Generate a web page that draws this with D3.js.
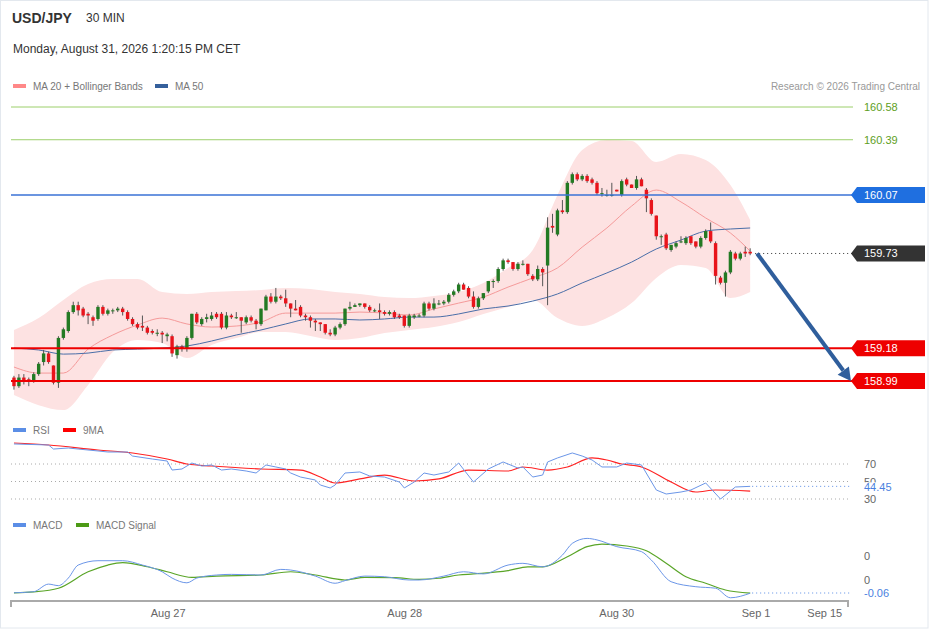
<!DOCTYPE html>
<html>
<head>
<meta charset="utf-8">
<script src="https://cdn.jsdelivr.net/npm/d3@7"></script>
<style>
  body { margin: 0; background: #fff; font-family: "Liberation Sans", Arial, sans-serif; }
</style>
</head>
<body>
<div id="chart"></div>
<script>
// USD/JPY 30 min candles (index 0 = first candle)
const candleOpen = [159.01,158.96,159.01,159.00,158.99,159.03,159.10,159.15,159.08,158.98,
  159.24,159.28,159.39,159.43,159.41,159.38,159.36,159.35,159.42,159.38,
  159.40,159.40,159.41,159.39,159.35,159.32,159.31,159.30,159.28,159.27,
  159.27,159.25,159.25,159.14,159.19,159.18,159.24,159.38,159.32,159.35,
  159.35,159.38,159.38,159.30,159.37,159.36,159.36,159.33,159.36,159.34,
  159.32,159.40,159.48,159.45,159.48,159.47,159.44,159.41,159.42,159.37,
  159.36,159.34,159.33,159.32,159.27,159.26,159.30,159.32,159.41,159.42,
  159.43,159.44,159.42,159.40,159.40,159.39,159.38,159.39,159.37,159.37,
  159.31,159.36,159.37,159.37,159.44,159.41,159.44,159.44,159.45,159.49,
  159.51,159.55,159.53,159.48,159.42,159.47,159.51,159.57,159.57,159.64,
  159.69,159.68,159.64,159.67,159.67,159.60,159.58,159.64,159.66,159.89,
  159.84,159.98,159.97,160.14,160.19,160.16,160.18,160.16,160.14,160.08,
  160.07,160.07,160.10,160.07,160.16,160.13,160.11,160.16,160.10,160.04,
  159.95,159.83,159.84,159.75,159.77,159.80,159.79,159.83,159.80,159.77,
  159.82,159.86,159.79,159.59,159.56,159.62,159.73,159.70,159.74,159.74];
const candleHigh = [159.02,159.03,159.03,159.01,159.04,159.10,159.17,159.16,159.08,159.25,
  159.30,159.40,159.45,159.45,159.42,159.39,159.37,159.43,159.43,159.41,
  159.41,159.42,159.42,159.40,159.36,159.33,159.37,159.31,159.29,159.29,
  159.28,159.27,159.26,159.20,159.20,159.25,159.38,159.39,159.36,159.38,
  159.39,159.39,159.39,159.39,159.38,159.39,159.36,159.37,159.37,159.35,
  159.41,159.49,159.50,159.53,159.49,159.52,159.44,159.46,159.43,159.38,
  159.37,159.35,159.33,159.32,159.29,159.31,159.33,159.41,159.45,159.44,
  159.44,159.44,159.43,159.41,159.44,159.40,159.40,159.40,159.38,159.37,
  159.38,159.38,159.38,159.45,159.45,159.47,159.46,159.46,159.50,159.52,
  159.56,159.56,159.54,159.51,159.48,159.50,159.57,159.58,159.65,159.70,
  159.70,159.68,159.68,159.69,159.67,159.61,159.66,159.65,159.94,159.96,
  159.99,160.04,160.15,160.20,160.20,160.19,160.19,160.17,160.15,160.11,
  160.10,160.14,160.10,160.16,160.17,160.13,160.18,160.17,160.11,160.05,
  159.95,159.84,159.85,159.78,159.80,159.83,159.83,159.83,159.80,159.83,
  159.87,159.91,159.80,159.60,159.63,159.75,159.74,159.74,159.77,159.76];
const candleLow = [158.94,158.95,158.97,158.96,158.98,159.02,159.08,159.09,158.97,158.95,
  159.23,159.27,159.38,159.37,159.36,159.32,159.31,159.34,159.37,159.37,
  159.38,159.39,159.37,159.34,159.31,159.29,159.28,159.26,159.26,159.25,
  159.21,159.22,159.13,159.12,159.16,159.16,159.23,159.32,159.31,159.33,
  159.34,159.35,159.29,159.29,159.35,159.35,159.27,159.32,159.33,159.29,
  159.31,159.40,159.44,159.44,159.46,159.42,159.36,159.40,159.36,159.34,
  159.30,159.28,159.28,159.26,159.25,159.25,159.29,159.31,159.40,159.42,
  159.42,159.41,159.39,159.39,159.35,159.37,159.37,159.35,159.35,159.30,
  159.30,159.35,159.36,159.36,159.40,159.40,159.43,159.43,159.44,159.48,
  159.50,159.52,159.47,159.41,159.41,159.46,159.50,159.53,159.56,159.63,
  159.67,159.63,159.63,159.66,159.60,159.57,159.57,159.54,159.43,159.85,
  159.83,159.96,159.96,160.13,160.15,160.15,160.14,160.13,160.07,160.06,
  160.06,160.06,160.09,160.06,160.12,160.11,160.10,160.12,159.97,159.95,
  159.81,159.78,159.75,159.74,159.76,159.79,159.78,159.78,159.76,159.76,
  159.81,159.79,159.55,159.55,159.48,159.61,159.69,159.69,159.71,159.72];
const candleClose = [158.96,159.01,158.99,158.99,159.03,159.09,159.15,159.10,158.98,159.24,
  159.29,159.39,159.43,159.40,159.37,159.37,159.34,159.42,159.38,159.40,
  159.40,159.41,159.39,159.35,159.32,159.30,159.30,159.27,159.27,159.27,
  159.26,159.26,159.15,159.19,159.18,159.24,159.38,159.33,159.35,159.36,
  159.37,159.36,159.30,159.37,159.36,159.36,159.34,159.36,159.34,159.32,
  159.41,159.48,159.45,159.48,159.47,159.44,159.41,159.40,159.37,159.36,
  159.34,159.33,159.32,159.27,159.26,159.30,159.32,159.41,159.42,159.43,
  159.44,159.42,159.40,159.40,159.39,159.38,159.39,159.36,159.36,159.31,
  159.37,159.37,159.37,159.44,159.41,159.44,159.44,159.45,159.49,159.51,
  159.55,159.52,159.48,159.42,159.47,159.50,159.57,159.57,159.64,159.69,
  159.68,159.64,159.67,159.67,159.61,159.58,159.64,159.62,159.88,159.88,
  159.98,159.97,160.14,160.19,160.16,160.18,160.15,160.14,160.08,160.08,
  160.07,160.07,160.09,160.15,160.13,160.11,160.16,160.12,160.05,159.96,
  159.83,159.83,159.76,159.78,159.79,159.80,159.82,159.79,159.77,159.82,
  159.86,159.80,159.60,159.56,159.62,159.74,159.70,159.73,159.73,159.73];

// MA 20 + Bollinger bands and MA 50, sampled every 5 candles
const bandIdx = [0,5,10,15,20,25,30,35,40,45,50,55,60,65,70,75,80,85,90,95,100,105,110,115,120,125,130,135,140,145,149];
const bandUpper = [159.286,159.355,159.460,159.553,159.582,159.582,159.506,159.495,159.506,159.512,
  159.518,159.530,159.524,159.506,159.495,159.477,159.471,159.483,159.506,159.559,
  159.646,159.750,160.069,160.330,160.388,160.383,160.261,160.307,160.272,160.127,159.924];
const bandLower = [158.909,158.850,158.821,158.967,159.158,159.228,159.210,159.123,159.199,159.239,
  159.274,159.274,159.251,159.228,159.239,159.268,159.286,159.303,159.332,159.379,
  159.419,159.460,159.355,159.309,159.355,159.442,159.588,159.663,159.646,159.471,159.506];
const ma20 = [159.071,159.036,159.036,159.175,159.257,159.315,159.355,159.321,159.303,159.309,
  159.332,159.384,159.384,159.384,159.390,159.384,159.373,159.408,159.442,159.477,
  159.535,159.588,159.646,159.767,159.878,160.005,160.098,160.029,159.936,159.849,159.744];
const ma50 = [159.181,159.170,159.146,159.152,159.170,159.175,159.181,159.193,159.222,159.257,
  159.286,159.321,159.350,159.350,159.344,159.350,159.361,159.361,159.379,159.408,
  159.425,159.454,159.495,159.559,159.617,159.680,159.756,159.808,159.860,159.872,159.878];

// RSI and its 9 period MA
const rsiIdx = [0,7,8,11,13,17,19,23,24,28,31,32,34,36,38,40,42,44,47,49,51,53,55,56,58,61,62,64,65,67,
  70,72,75,78,79,81,83,85,88,90,93,96,99,102,103,105,107,108,110,113,115,117,119,122,124,127,130,132,135,137,
  140,143,146,149];
const rsiVals = [92.9,91.7,87.1,88.3,87.1,84.9,83.7,83.7,79.1,75.7,73.4,63.1,64.3,71.1,67.7,68.9,63.1,64.3,62.0,59.7,
  68.9,66.6,64.3,59.7,55.1,51.7,46.0,42.6,46.0,59.7,60.9,56.3,55.1,49.4,42.6,49.4,59.7,57.4,60.9,71.1,
  49.4,64.3,72.3,65.4,66.6,55.1,57.4,72.3,76.9,82.6,79.1,74.6,66.6,66.6,71.1,68.9,40.3,35.7,38.0,40.3,
  48.3,30.0,43.7,44.45];
const rsiMaIdx = [0,7,17,24,31,35,40,50,58,62,65,70,75,81,86,92,100,103,108,112,117,120,123,127,133,138,142,149];
const rsiMaVals = [94.0,91.7,86.0,82.6,75.7,70.0,67.7,64.3,63.1,55.1,48.3,52.9,57.4,50.6,52.9,63.1,62.0,66.6,63.1,66.6,
  76.9,74.6,70.0,66.6,49.4,38.0,40.3,39.1];

// MACD and signal
const macdIdx = [0,4,7,9,11,13,17,22,26,30,32,35,37,41,44,50,54,56,61,65,67,71,75,80,82,87,91,95,100,103,
  107,111,113,116,118,122,127,129,133,138,142,145,149];
const macdVals = [-0.059,-0.054,-0.019,-0.026,0.009,0.069,0.089,0.089,0.069,0.038,0.009,-0.013,0.009,0.023,0.026,0.023,0.049,0.046,0.018,-0.015,
  -0.003,0.018,0.015,0.000,0.000,0.018,0.038,0.028,0.069,0.077,0.061,0.115,0.169,0.192,0.185,0.154,0.131,0.092,-0.008,-0.031,
  -0.038,-0.082,-0.061];
const signalIdx = [0,4,9,15,19,22,27,31,36,41,50,56,61,67,71,77,82,86,90,93,100,104,107,112,116,119,124,128,132,136,140,144,149];
const signalVals = [-0.059,-0.055,-0.038,0.038,0.069,0.080,0.061,0.038,0.012,0.018,0.023,0.038,0.023,0.000,0.012,0.011,0.003,0.008,0.023,0.028,
  0.043,0.061,0.061,0.107,0.154,0.166,0.157,0.135,0.077,0.015,-0.015,-0.046,-0.061];

// levels and axis labels
const supportLevels = [159.18, 158.99];
const resistanceLevels = [160.58, 160.39];
const pivotLevel = 160.07;
const lastPrice = 159.73;
const targetPrice = 158.99;
const lastRsi = 44.45;
const lastMacd = -0.06;
const rsiLevels = [70, 50, 30];
const macdTickVals = [0.111, 0];
const macdTickLabels = ["0", "0"];
const xTickIdx = [31.2, 79.1, 122, 150.2, 164.1];
const xTickLabels = ["Aug 27", "Aug 28", "Aug 30", "Sep 1", "Sep 15"];

const W = 929, H = 629;
const plotLeft = 11, plotRight = 848, lineEnd = 853, labelX = 864;

const svg = d3.select("#chart").append("svg")
  .attr("width", W).attr("height", H)
  .style("font-family", '"Liberation Sans", Arial, sans-serif');

svg.append("rect").attr("x", 0.5).attr("y", 0.5).attr("width", W - 1.5).attr("height", H - 1.5)
  .attr("fill", "#fff").attr("stroke", "#e3e8ee");

// scales
const x = d3.scaleLinear().domain([-0.6, 168.8]).range([plotLeft, plotRight]);
const y = d3.scaleLinear().domain([158.99, 160.58]).range([381, 107]);
const yRsi = d3.scaleLinear().domain([30, 70]).range([499, 464]);
const yMacd = d3.scaleLinear().domain([-0.06, 0]).range([593, 580]);

// header
svg.append("text").attr("x", 12).attr("y", 23).attr("font-size", 14).attr("font-weight", "bold")
  .attr("fill", "#333").text("USD/JPY");
svg.append("text").attr("x", 86).attr("y", 22).attr("font-size", 12).attr("fill", "#333").text("30 MIN");
svg.append("text").attr("x", 13).attr("y", 53).attr("font-size", 12).attr("fill", "#333")
  .text("Monday, August 31, 2026 1:20:15 PM CET");

function legend(items, yy) {
  items.forEach(it => {
    svg.append("rect").attr("x", it.x).attr("y", yy - 2).attr("width", 13).attr("height", 4).attr("fill", it.color);
    svg.append("text").attr("x", it.x + 20).attr("y", yy + 4).attr("font-size", 10).attr("fill", "#777").text(it.label);
  });
}
legend([{x: 13, color: "#f88", label: "MA 20 + Bollinger Bands"}, {x: 155, color: "#35609c", label: "MA 50"}], 86);
legend([{x: 13, color: "#5b8ee6", label: "RSI"}, {x: 63, color: "#f00", label: "9MA"}], 430);
legend([{x: 13, color: "#5b8ee6", label: "MACD"}, {x: 76, color: "#4c9a15", label: "MACD Signal"}], 525);

svg.append("text").attr("x", 920).attr("y", 90).attr("text-anchor", "end").attr("font-size", 10)
  .attr("fill", "#999").text("Research \u00a9 2026 Trading Central");

// bollinger band
const bandArea = d3.area()
  .x((d, i) => x(bandIdx[i]))
  .y0((d, i) => y(bandLower[i]))
  .y1((d, i) => y(bandUpper[i]))
  .curve(d3.curveMonotoneX);
svg.append("path").datum(bandIdx).attr("d", bandArea).attr("fill", "#fde2e2");

const sampled = (vals, idx, scale) => d3.line()
  .x((d, i) => x(idx[i])).y(d => scale(d)).curve(d3.curveMonotoneX)(vals);

svg.append("path").attr("d", sampled(ma20, bandIdx, y)).attr("fill", "none").attr("stroke", "#f59a9a").attr("stroke-width", 1);
svg.append("path").attr("d", sampled(ma50, bandIdx, y)).attr("fill", "none").attr("stroke", "#4a6ea8").attr("stroke-width", 1);

// candles
const candles = d3.range(candleOpen.length).map(i => ({
  i, o: candleOpen[i], h: candleHigh[i], l: candleLow[i], c: candleClose[i]
}));
const cg = svg.append("g").selectAll("g").data(candles).join("g");
cg.append("line")
  .attr("x1", d => x(d.i)).attr("x2", d => x(d.i))
  .attr("y1", d => y(d.h)).attr("y2", d => y(d.l))
  .attr("stroke", "#555").attr("stroke-width", 1);
cg.append("rect")
  .attr("x", d => x(d.i) - 1.7).attr("width", 3.4)
  .attr("y", d => y(Math.max(d.o, d.c)))
  .attr("height", d => Math.max(1, Math.abs(y(d.o) - y(d.c))))
  .attr("fill", d => d.c >= d.o ? "#237a23" : "#e8141b");

// horizontal levels
resistanceLevels.forEach(v => {
  svg.append("line").attr("x1", plotLeft).attr("x2", lineEnd).attr("y1", y(v)).attr("y2", y(v))
    .attr("stroke", "#9ccf6a").attr("stroke-width", 1);
  svg.append("text").attr("x", labelX).attr("y", y(v) + 4).attr("font-size", 11).attr("fill", "#5e9e22")
    .text(v.toFixed(2));
});
svg.append("line").attr("x1", plotLeft).attr("x2", lineEnd).attr("y1", y(pivotLevel)).attr("y2", y(pivotLevel))
  .attr("stroke", "#3a72d6").attr("stroke-width", 1.5);
supportLevels.forEach(v => {
  svg.append("line").attr("x1", plotLeft).attr("x2", lineEnd).attr("y1", y(v)).attr("y2", y(v))
    .attr("stroke", "#ee0000").attr("stroke-width", 2);
});
svg.append("line").attr("x1", x(149) + 5).attr("x2", lineEnd).attr("y1", y(lastPrice)).attr("y2", y(lastPrice))
  .attr("stroke", "#333").attr("stroke-dasharray", "1,3");

function tag(v, fill) {
  const yy = y(v);
  svg.append("path")
    .attr("d", `M${lineEnd - 2},${yy} L${lineEnd + 4},${yy - 8} L925,${yy - 8} L925,${yy + 8} L${lineEnd + 4},${yy + 8} Z`)
    .attr("fill", fill);
  svg.append("text").attr("x", labelX).attr("y", yy + 4).attr("font-size", 11).attr("fill", "#fff").text(v.toFixed(2));
}
tag(pivotLevel, "#1f6fe0");
tag(lastPrice, "#333");
supportLevels.forEach(v => tag(v, "#ee0000"));

// projection arrow
const a0 = [x(150.4), y(lastPrice)];
const a1 = [x(169.4), y(targetPrice)];
const ang = Math.atan2(a1[1] - a0[1], a1[0] - a0[0]);
const headLen = 13, headW = 7;
const base = [a1[0] - headLen * Math.cos(ang), a1[1] - headLen * Math.sin(ang)];
svg.append("line").attr("x1", a0[0]).attr("y1", a0[1]).attr("x2", base[0]).attr("y2", base[1])
  .attr("stroke", "#2f5e9c").attr("stroke-width", 4);
svg.append("path").attr("d", `M${a1[0]},${a1[1]} L${base[0] + headW * Math.sin(ang)},${base[1] - headW * Math.cos(ang)} L${base[0] - headW * Math.sin(ang)},${base[1] + headW * Math.cos(ang)} Z`)
  .attr("fill", "#2f5e9c");

// RSI panel
rsiLevels.forEach(v => {
  svg.append("line").attr("x1", plotLeft).attr("x2", 850).attr("y1", yRsi(v)).attr("y2", yRsi(v))
    .attr("stroke", "#aaa").attr("stroke-dasharray", "1,3");
  svg.append("text").attr("x", labelX).attr("y", yRsi(v) + 4).attr("font-size", 11).attr("fill", "#666").text(v);
});
svg.append("path").attr("d", d3.line().x((d, i) => x(rsiMaIdx[i])).y(d => yRsi(d)).curve(d3.curveMonotoneX)(rsiMaVals))
  .attr("fill", "none").attr("stroke", "#f22").attr("stroke-width", 1.2);
svg.append("path").attr("d", d3.line().x((d, i) => x(rsiIdx[i])).y(d => yRsi(d))(rsiVals))
  .attr("fill", "none").attr("stroke", "#6b96e8").attr("stroke-width", 1);
svg.append("line").attr("x1", x(149) + 2).attr("x2", 850).attr("y1", yRsi(lastRsi)).attr("y2", yRsi(lastRsi))
  .attr("stroke", "#5b8ee6").attr("stroke-dasharray", "1,3");
svg.append("rect").attr("x", labelX - 1).attr("y", yRsi(lastRsi) - 4).attr("width", 34).attr("height", 11).attr("fill", "#fff");
svg.append("text").attr("x", labelX).attr("y", yRsi(lastRsi) + 5).attr("font-size", 11).attr("fill", "#4a7fe0")
  .text(lastRsi.toFixed(2));

// MACD panel
macdTickVals.forEach((v, i) => {
  svg.append("text").attr("x", labelX).attr("y", yMacd(v) + 4).attr("font-size", 11).attr("fill", "#666").text(macdTickLabels[i]);
});
svg.append("path").attr("d", d3.line().x((d, i) => x(signalIdx[i])).y(d => yMacd(d)).curve(d3.curveMonotoneX)(signalVals))
  .attr("fill", "none").attr("stroke", "#5aa528").attr("stroke-width", 1.2);
svg.append("path").attr("d", d3.line().x((d, i) => x(macdIdx[i])).y(d => yMacd(d)).curve(d3.curveMonotoneX)(macdVals))
  .attr("fill", "none").attr("stroke", "#6b96e8").attr("stroke-width", 1);
svg.append("line").attr("x1", x(149) + 2).attr("x2", 850).attr("y1", yMacd(lastMacd)).attr("y2", yMacd(lastMacd))
  .attr("stroke", "#5b8ee6").attr("stroke-dasharray", "1,3");
svg.append("text").attr("x", labelX).attr("y", yMacd(lastMacd) + 4).attr("font-size", 11).attr("fill", "#4a7fe0")
  .text(lastMacd.toFixed(2));

// x axis
const axis = svg.append("g").attr("transform", "translate(0,601)");
axis.append("path").attr("d", `M${plotLeft},6V0H${plotRight}V6`).attr("fill", "none").attr("stroke", "#aaa").attr("stroke-width", 2);
axis.selectAll("text").data(xTickIdx).join("text")
  .attr("x", d => x(d)).attr("y", 16).attr("text-anchor", "middle")
  .attr("font-size", 11).attr("fill", "#666")
  .text((d, i) => xTickLabels[i]);
</script>
</body>
</html>
